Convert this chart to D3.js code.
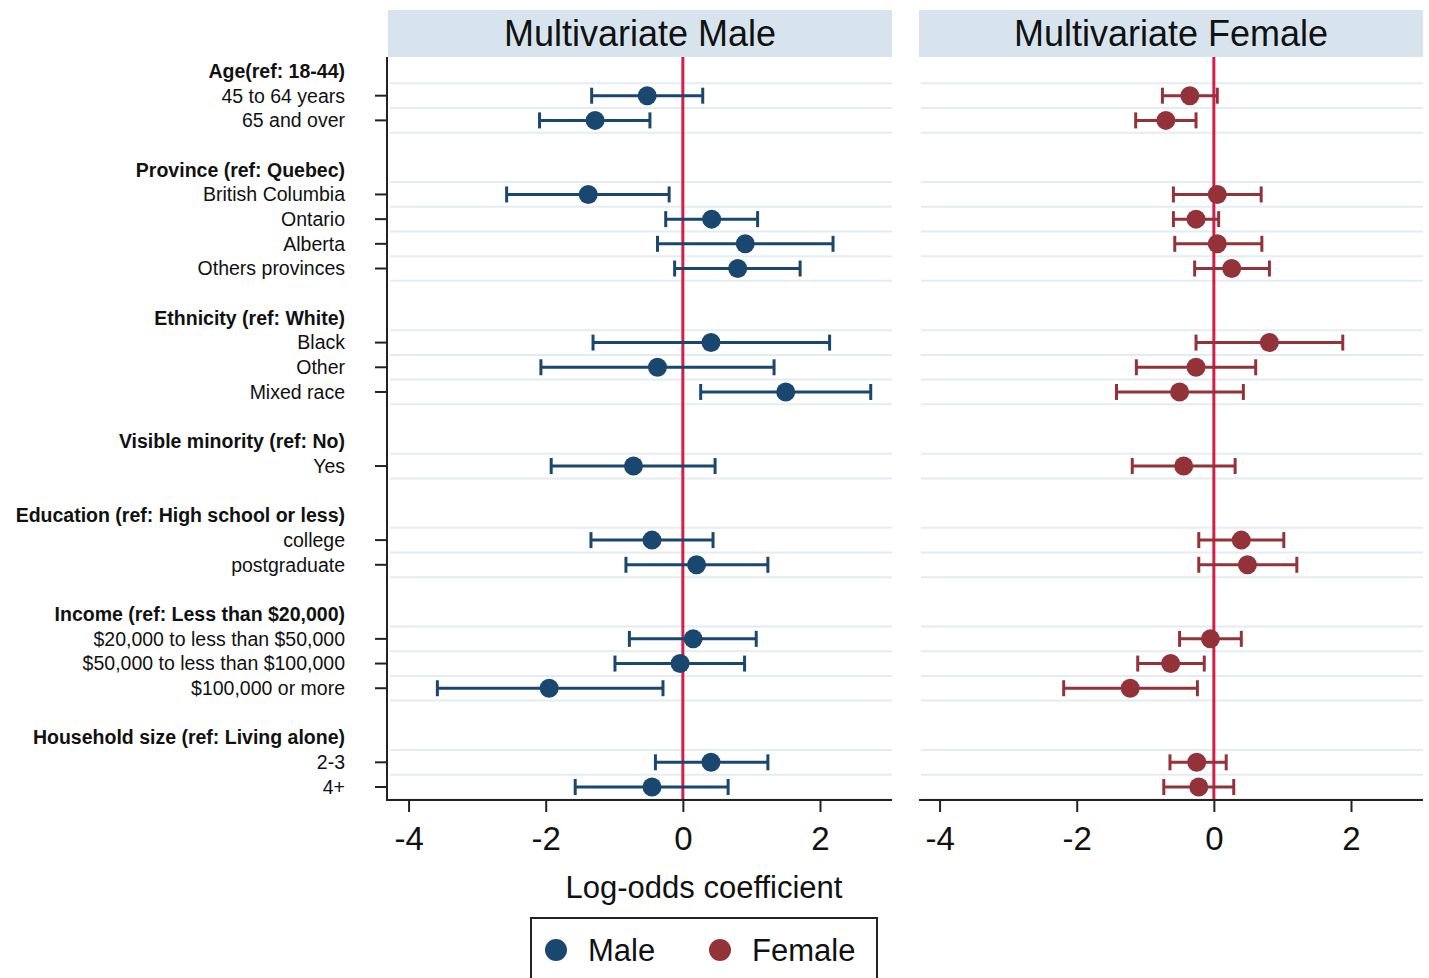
<!DOCTYPE html>
<html>
<head>
<meta charset="utf-8">
<script src="https://cdn.jsdelivr.net/npm/d3@7"></script>
<style>
  body { margin: 0; background: #fff; }
  svg { font-family: "Liberation Sans", Arial, sans-serif; }
</style>
</head>
<body>
<script>
// rows of the plot, top to bottom ("" = empty spacer row)
const rowLabels = [
  "Age(ref: 18-44)", "45 to 64 years", "65 and over", "",
  "Province (ref: Quebec)", "British Columbia", "Ontario", "Alberta", "Others provinces", "",
  "Ethnicity (ref: White)", "Black", "Other", "Mixed race", "",
  "Visible minority (ref: No)", "Yes", "",
  "Education (ref: High school or less)", "college", "postgraduate", "",
  "Income (ref: Less than $20,000)", "$20,000 to less than $50,000", "$50,000 to less than $100,000", "$100,000 or more", "",
  "Household size (ref: Living alone)", "2-3", "4+"
];
const headerRows = [0, 4, 10, 15, 18, 22, 27];
// data rows (index into rowLabels)
const itemRows = [1, 2, 5, 6, 7, 8, 11, 12, 13, 16, 19, 20, 23, 24, 25, 28, 29];

// male estimates and 95% CI
const maleEst = [-0.52, -1.28, -1.38, 0.42, 0.91, 0.80, 0.41, -0.37, 1.50, -0.72, -0.45, 0.20, 0.15, -0.04, -1.95, 0.41, -0.45];
const maleLo  = [-1.33, -2.09, -2.57, -0.25, -0.37, -0.12, -1.31, -2.07, 0.26, -1.92, -1.34, -0.83, -0.78, -0.99, -3.58, -0.40, -1.57];
const maleHi  = [0.29, -0.48, -0.20, 1.09, 2.19, 1.71, 2.14, 1.33, 2.74, 0.47, 0.44, 1.24, 1.07, 0.90, -0.29, 1.24, 0.66];

// female estimates and 95% CI
const femaleEst = [-0.35, -0.70, 0.05, -0.26, 0.05, 0.26, 0.81, -0.26, -0.50, -0.44, 0.40, 0.49, -0.05, -0.63, -1.22, -0.25, -0.22];
const femaleLo  = [-0.75, -1.14, -0.59, -0.59, -0.57, -0.28, -0.26, -1.13, -1.42, -1.19, -0.22, -0.22, -0.50, -1.11, -2.19, -0.64, -0.73];
const femaleHi  = [0.05, -0.26, 0.69, 0.07, 0.70, 0.81, 1.88, 0.61, 0.43, 0.31, 1.02, 1.21, 0.40, -0.14, -0.24, 0.18, 0.29];

const panelTitles = ["Multivariate Male", "Multivariate Female"];
const xTicks = [-4, -2, 0, 2];
const legendLabels = ["Male", "Female"];

const maleColor = "#1a476f";
const femaleColor = "#933239";
const refColor = "#d21f48";

const W = 1429, H = 978;
const svg = d3.select("body").append("svg").attr("width", W).attr("height", H);

const plotTop = 57, plotBottom = 800;
const panels = [
  { x0: 388, x1: 892, est: maleEst, lo: maleLo, hi: maleHi, color: maleColor },
  { x0: 919, x1: 1423, est: femaleEst, lo: femaleLo, hi: femaleHi, color: femaleColor }
];

const y = d3.scaleLinear().domain([0, rowLabels.length - 1]).range([71, 787]);

panels.forEach(function (p, pi) {
  const x = d3.scaleLinear().domain([-4.3, 3.05]).range([p.x0, p.x1]);
  const g = svg.append("g");

  // header strip
  g.append("rect")
    .attr("x", p.x0).attr("y", 10)
    .attr("width", p.x1 - p.x0).attr("height", plotTop - 10)
    .attr("fill", "#d7e4ed");
  g.append("text")
    .attr("x", (p.x0 + p.x1) / 2).attr("y", 46)
    .attr("text-anchor", "middle")
    .attr("font-size", 36)
    .attr("fill", "#111")
    .text(panelTitles[pi]);

  // light grid lines above and below each item row
  const gl = [];
  itemRows.forEach(function (r) { gl.push(r - 0.5, r + 0.5); });
  g.selectAll(".grid").data(Array.from(new Set(gl))).enter()
    .append("line")
    .attr("x1", p.x0 + 2).attr("x2", p.x1)
    .attr("y1", d => y(d)).attr("y2", d => y(d))
    .attr("stroke", "#e4ecf1").attr("stroke-width", 2);

  // zero reference line
  g.append("line")
    .attr("x1", x(0)).attr("x2", x(0))
    .attr("y1", plotTop).attr("y2", plotBottom)
    .attr("stroke", refColor).attr("stroke-width", 3);

  // x axis
  const ax = g.append("g")
    .attr("transform", "translate(0," + plotBottom + ")")
    .call(d3.axisBottom(x).tickValues(xTicks).tickSize(12).tickPadding(15));
  ax.select(".domain").attr("d", "M" + p.x0 + ",0H" + p.x1).attr("stroke", "#222").attr("stroke-width", 2);
  ax.selectAll(".tick line").attr("stroke", "#222").attr("stroke-width", 2);
  ax.selectAll(".tick text").attr("font-size", 33).attr("fill", "#111")
    .attr("font-family", "Liberation Sans, Arial, sans-serif")
    .text(d => d < 0 ? "-" + Math.abs(d) : d);

  // error bars
  const items = itemRows.map((r, i) => ({ r: r, est: p.est[i], lo: p.lo[i], hi: p.hi[i] }));
  const eb = g.selectAll(".eb").data(items).enter().append("g")
    .attr("stroke", p.color).attr("stroke-width", 3);
  eb.append("line")
    .attr("x1", d => x(d.lo)).attr("x2", d => x(d.hi))
    .attr("y1", d => y(d.r)).attr("y2", d => y(d.r));
  eb.append("line")
    .attr("x1", d => x(d.lo)).attr("x2", d => x(d.lo))
    .attr("y1", d => y(d.r) - 8).attr("y2", d => y(d.r) + 8);
  eb.append("line")
    .attr("x1", d => x(d.hi)).attr("x2", d => x(d.hi))
    .attr("y1", d => y(d.r) - 8).attr("y2", d => y(d.r) + 8);

  g.selectAll(".pt").data(items).enter().append("circle")
    .attr("cx", d => x(d.est)).attr("cy", d => y(d.r))
    .attr("r", 9.5).attr("fill", p.color);
});

// y axis on the left panel
svg.append("line")
  .attr("x1", 387).attr("x2", 387).attr("y1", plotTop).attr("y2", plotBottom + 1)
  .attr("stroke", "#222").attr("stroke-width", 2);
svg.selectAll(".ytick").data(itemRows).enter().append("line")
  .attr("x1", 375).attr("x2", 387)
  .attr("y1", d => y(d)).attr("y2", d => y(d))
  .attr("stroke", "#222").attr("stroke-width", 2);
svg.selectAll(".ylab").data(rowLabels.map((t, i) => ({ t: t, i: i })).filter(d => d.t !== ""))
  .enter().append("text")
  .attr("x", 345).attr("y", d => y(d.i))
  .attr("dy", "0.35em")
  .attr("text-anchor", "end")
  .attr("font-size", 19.5)
  .attr("font-weight", d => headerRows.includes(d.i) ? "bold" : "normal")
  .attr("fill", "#111")
  .text(d => d.t);

// x axis title
svg.append("text")
  .attr("x", 704).attr("y", 898)
  .attr("text-anchor", "middle")
  .attr("font-size", 31)
  .attr("fill", "#111")
  .text("Log-odds coefficient");

// legend
svg.append("rect")
  .attr("x", 531).attr("y", 918).attr("width", 346).attr("height", 80)
  .attr("fill", "#fff").attr("stroke", "#222").attr("stroke-width", 2);
const legX = [556, 720];
const lg = svg.selectAll(".leg").data(legendLabels).enter().append("g");
lg.append("circle")
  .attr("cx", (d, i) => legX[i]).attr("cy", 950).attr("r", 11)
  .attr("fill", (d, i) => i === 0 ? maleColor : femaleColor);
lg.append("text")
  .attr("x", (d, i) => legX[i] + 32).attr("y", 961)
  .attr("font-size", 31).attr("fill", "#111")
  .text(d => d);
</script>
</body>
</html>
